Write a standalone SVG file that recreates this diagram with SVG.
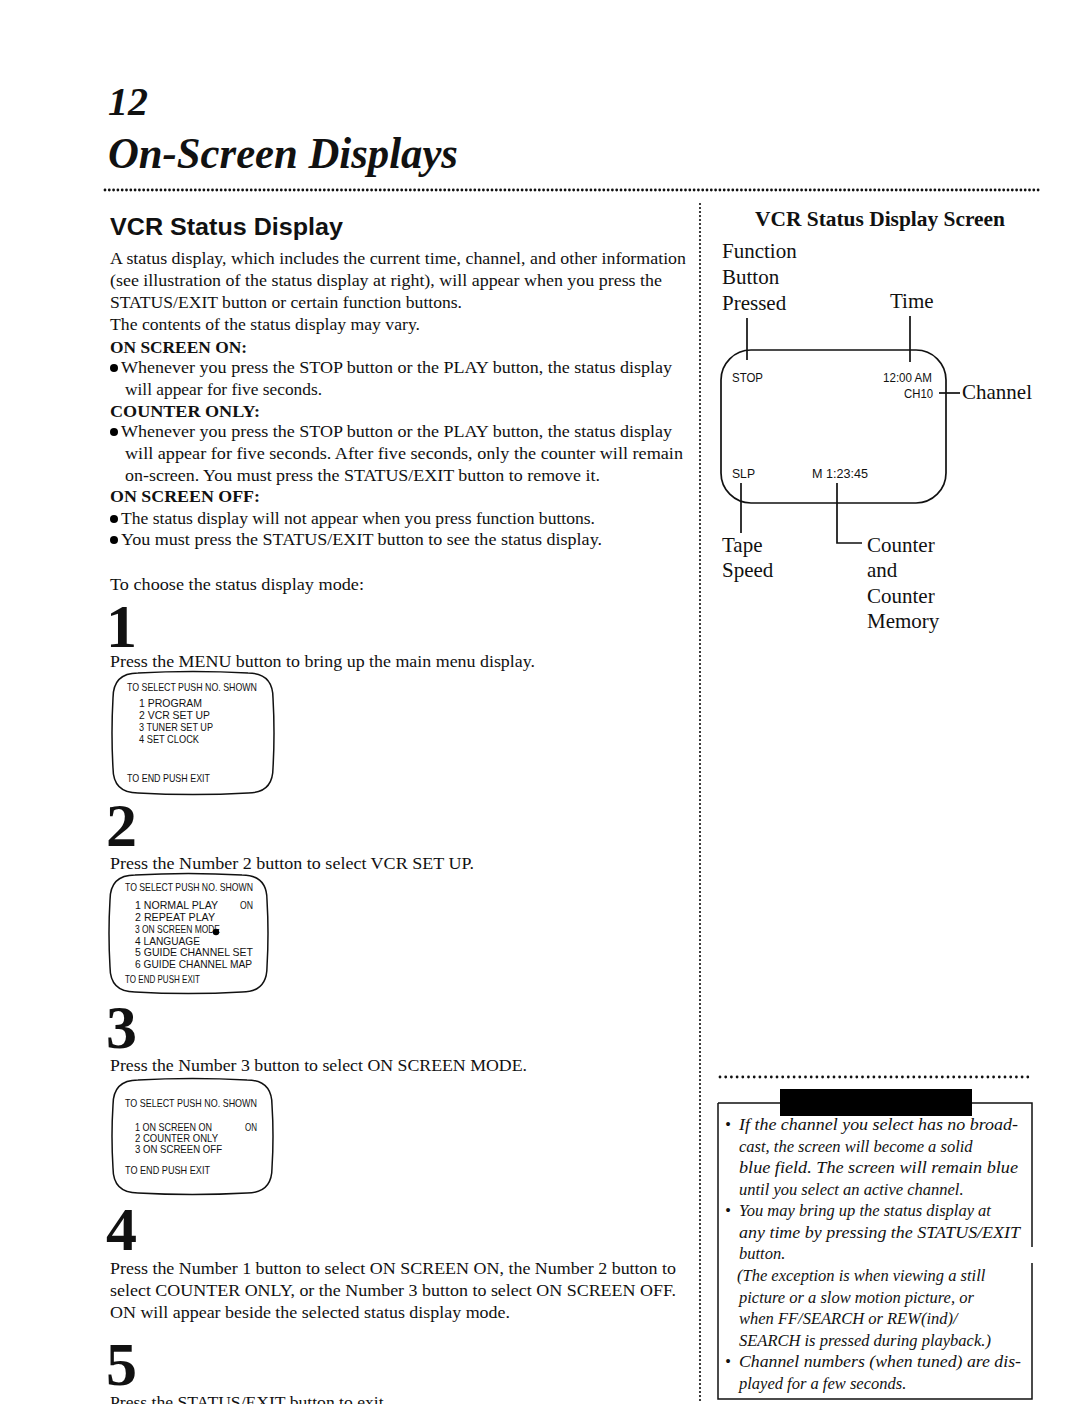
<svg xmlns="http://www.w3.org/2000/svg" width="1080" height="1404" viewBox="0 0 1080 1404">
<style>
text{fill:#111}
.b{font-family:"Liberation Serif","Times New Roman",serif;font-size:16.5px}
.bh{font-family:"Liberation Serif","Times New Roman",serif;font-size:16.5px;font-weight:bold}
.st{font-family:"Liberation Serif","Times New Roman",serif;font-size:62px;font-weight:bold}
.m{font-family:"Liberation Sans",Arial,sans-serif;font-size:11px}
.s{font-family:"Liberation Sans",Arial,sans-serif;font-size:12px}
.l{font-family:"Liberation Serif","Times New Roman",serif;font-size:21px}
.n{font-family:"Liberation Serif","Times New Roman",serif;font-size:16.5px;font-style:italic}
.ln{stroke:#111;stroke-width:1.7;fill:none}
.box{stroke:#111;stroke-width:1.5;fill:none}
.dot{stroke:#111;stroke-linecap:round;fill:none}
</style>

<g id="header">
<text x="108" y="115" style="font-family:'Liberation Serif',serif;font-size:40px;font-weight:bold;font-style:italic">12</text>
<text x="108" y="168" textLength="350" lengthAdjust="spacingAndGlyphs" style="font-family:'Liberation Serif',serif;font-size:44px;font-weight:bold;font-style:italic">On-Screen Displays</text>
<line class="dot" x1="105" y1="190" x2="1040" y2="190" stroke-width="2.8" stroke-dasharray="0 4.3"/>
<line class="dot" x1="700" y1="204" x2="700" y2="1404" stroke-width="2.2" stroke-dasharray="0 4"/>
</g>

<g id="intro">
<text x="110" y="235" textLength="233" lengthAdjust="spacingAndGlyphs" style="font-family:'Liberation Sans',Arial,sans-serif;font-size:23px;font-weight:bold">VCR Status Display</text>
<text class="b" x="110" y="264" textLength="576" lengthAdjust="spacingAndGlyphs">A status display, which includes the current time, channel, and other information</text>
<text class="b" x="110" y="286" textLength="552" lengthAdjust="spacingAndGlyphs">(see illustration of the status display at right), will appear when you press the</text>
<text class="b" x="110" y="308" textLength="352" lengthAdjust="spacingAndGlyphs">STATUS/EXIT button or certain function buttons.</text>
<text class="b" x="110" y="330" textLength="310" lengthAdjust="spacingAndGlyphs">The contents of the status display may vary.</text>
<text class="bh" x="110" y="353" textLength="137" lengthAdjust="spacingAndGlyphs">ON SCREEN ON:</text>
<circle cx="114" cy="368" r="4"/>
<text class="b" x="121" y="373" textLength="551" lengthAdjust="spacingAndGlyphs">Whenever you press the STOP button or the PLAY button, the status display</text>
<text class="b" x="125" y="395" textLength="197" lengthAdjust="spacingAndGlyphs">will appear for five seconds.</text>
<text class="bh" x="110" y="417" textLength="150" lengthAdjust="spacingAndGlyphs">COUNTER ONLY:</text>
<circle cx="114" cy="432" r="4"/>
<text class="b" x="121" y="437" textLength="551" lengthAdjust="spacingAndGlyphs">Whenever you press the STOP button or the PLAY button, the status display</text>
<text class="b" x="125" y="459" textLength="558" lengthAdjust="spacingAndGlyphs">will appear for five seconds.  After five seconds, only the counter will remain</text>
<text class="b" x="125" y="481" textLength="475" lengthAdjust="spacingAndGlyphs">on-screen.  You must press the STATUS/EXIT button to remove it.</text>
<text class="bh" x="110" y="502" textLength="150" lengthAdjust="spacingAndGlyphs">ON SCREEN OFF:</text>
<circle cx="114" cy="519" r="4"/>
<text class="b" x="121" y="524" textLength="474" lengthAdjust="spacingAndGlyphs">The status display will not appear when you press function buttons.</text>
<circle cx="114" cy="540" r="4"/>
<text class="b" x="121" y="545" textLength="481" lengthAdjust="spacingAndGlyphs">You must press the STATUS/EXIT button to see the status display.</text>
<text class="b" x="110" y="590" textLength="254" lengthAdjust="spacingAndGlyphs">To choose the status display mode:</text>
</g>

<g id="step1">
<text class="st" x="106" y="647">1</text>
<text class="b" x="110" y="667" textLength="425" lengthAdjust="spacingAndGlyphs">Press the MENU button to bring up the main menu display.</text>
</g>
<g id="menu1">
<path class="box" d="M138,673 Q193,670 248,673 Q273,673 273,698 Q275,733 273,768 Q273,793 248,793 Q193,796 138,793 Q113,793 113,768 Q111,733 113,698 Q113,673 138,673Z"/>
<text class="m" x="127" y="691" textLength="130" lengthAdjust="spacingAndGlyphs">TO SELECT PUSH NO. SHOWN</text>
<text class="m" x="139" y="707" textLength="63" lengthAdjust="spacingAndGlyphs">1  PROGRAM</text>
<text class="m" x="139" y="719" textLength="71" lengthAdjust="spacingAndGlyphs">2  VCR SET UP</text>
<text class="m" x="139" y="731" textLength="74" lengthAdjust="spacingAndGlyphs">3  TUNER SET UP</text>
<text class="m" x="139" y="743" textLength="60" lengthAdjust="spacingAndGlyphs">4  SET CLOCK</text>
<text class="m" x="127" y="782" textLength="83" lengthAdjust="spacingAndGlyphs">TO END PUSH EXIT</text>
</g>

<g id="step2">
<text class="st" x="106" y="846">2</text>
<text class="b" x="110" y="869" textLength="364" lengthAdjust="spacingAndGlyphs">Press the Number 2 button to select VCR SET UP.</text>
</g>
<g id="menu2">
<path class="box" d="M135,875 Q188,872 242,875 Q267,875 267,900 Q269,933 267,967 Q267,992 242,992 Q188,995 135,992 Q110,992 110,967 Q108,933 110,900 Q110,875 135,875Z"/>
<text class="m" x="125" y="891" textLength="128" lengthAdjust="spacingAndGlyphs">TO SELECT PUSH NO. SHOWN</text>
<text class="m" x="135" y="909" textLength="83" lengthAdjust="spacingAndGlyphs">1  NORMAL PLAY</text>
<text class="m" x="240" y="909" textLength="13" lengthAdjust="spacingAndGlyphs">ON</text>
<text class="m" x="135" y="921" textLength="80" lengthAdjust="spacingAndGlyphs">2  REPEAT PLAY</text>
<text class="m" x="135" y="933" textLength="85" lengthAdjust="spacingAndGlyphs">3  ON SCREEN MODE</text>
<circle cx="216" cy="932" r="3.2"/>
<text class="m" x="135" y="945" textLength="65" lengthAdjust="spacingAndGlyphs">4  LANGUAGE</text>
<text class="m" x="135" y="956" textLength="118" lengthAdjust="spacingAndGlyphs">5  GUIDE CHANNEL SET</text>
<text class="m" x="135" y="968" textLength="117" lengthAdjust="spacingAndGlyphs">6  GUIDE CHANNEL MAP</text>
<text class="m" x="125" y="983" textLength="75" lengthAdjust="spacingAndGlyphs">TO END PUSH EXIT</text>
</g>

<g id="step3">
<text class="st" x="106" y="1048">3</text>
<text class="b" x="110" y="1071" textLength="417" lengthAdjust="spacingAndGlyphs">Press the Number 3 button to select ON SCREEN MODE.</text>
</g>
<g id="menu3">
<path class="box" d="M138,1080 Q192,1077 247,1080 Q272,1080 272,1105 Q274,1136 272,1168 Q272,1193 247,1193 Q192,1196 138,1193 Q113,1193 113,1168 Q111,1136 113,1105 Q113,1080 138,1080Z"/>
<text class="m" x="125" y="1107" textLength="132" lengthAdjust="spacingAndGlyphs">TO SELECT PUSH NO. SHOWN</text>
<text class="m" x="135" y="1131" textLength="77" lengthAdjust="spacingAndGlyphs">1  ON SCREEN ON</text>
<text class="m" x="245" y="1131" textLength="12" lengthAdjust="spacingAndGlyphs">ON</text>
<text class="m" x="135" y="1142" textLength="83" lengthAdjust="spacingAndGlyphs">2  COUNTER ONLY</text>
<text class="m" x="135" y="1153" textLength="87" lengthAdjust="spacingAndGlyphs">3  ON SCREEN OFF</text>
<text class="m" x="125" y="1174" textLength="85" lengthAdjust="spacingAndGlyphs">TO END PUSH EXIT</text>
</g>

<g id="step4">
<text class="st" x="106" y="1250">4</text>
<text class="b" x="110" y="1274" textLength="566" lengthAdjust="spacingAndGlyphs">Press the Number 1 button to select ON SCREEN ON, the Number 2 button to</text>
<text class="b" x="110" y="1296" textLength="566" lengthAdjust="spacingAndGlyphs">select COUNTER ONLY, or the Number 3 button to select ON SCREEN OFF.</text>
<text class="b" x="110" y="1318" textLength="400" lengthAdjust="spacingAndGlyphs">ON will appear beside the selected status display mode.</text>
</g>

<g id="step5">
<text class="st" x="106" y="1385">5</text>
<text class="b" x="110" y="1408" textLength="278" lengthAdjust="spacingAndGlyphs">Press the STATUS/EXIT button to exit.</text>
</g>

<g id="status-screen">
<text x="755" y="226" textLength="250" lengthAdjust="spacingAndGlyphs" style="font-family:'Liberation Serif',serif;font-size:20px;font-weight:bold">VCR Status Display Screen</text>
<rect class="ln" x="721" y="350" width="225" height="153" rx="30" ry="30"/>
<text class="s" x="732" y="382" textLength="31" lengthAdjust="spacingAndGlyphs">STOP</text>
<text class="s" x="883" y="382" textLength="49" lengthAdjust="spacingAndGlyphs">12:00 AM</text>
<text class="s" x="904" y="398" textLength="29" lengthAdjust="spacingAndGlyphs">CH10</text>
<text class="s" x="732" y="478" textLength="23" lengthAdjust="spacingAndGlyphs">SLP</text>
<text class="s" x="812" y="478" textLength="56" lengthAdjust="spacingAndGlyphs">M  1:23:45</text>
</g>

<g id="labels">
<text class="l" x="722" y="258">Function</text>
<text class="l" x="722" y="284">Button</text>
<text class="l" x="722" y="310">Pressed</text>
<text class="l" x="890" y="308">Time</text>
<text class="l" x="962" y="399">Channel</text>
<text class="l" x="722" y="552">Tape</text>
<text class="l" x="722" y="577">Speed</text>
<text class="l" x="867" y="552">Counter</text>
<text class="l" x="867" y="577">and</text>
<text class="l" x="867" y="603">Counter</text>
<text class="l" x="867" y="628">Memory</text>
</g>

<g id="connectors">
<line class="ln" x1="747" y1="318" x2="747" y2="360"/>
<line class="ln" x1="910" y1="316" x2="910" y2="362"/>
<line class="ln" x1="939" y1="393" x2="960" y2="393"/>
<line class="ln" x1="741" y1="483" x2="741" y2="533"/>
<polyline class="ln" points="837,483 837,543 862,543"/>
</g>

<g id="notes">
<line class="dot" x1="720" y1="1077" x2="1032" y2="1077" stroke-width="2.8" stroke-dasharray="0 5.7"/>
<path class="box" d="M718,1103 H1032 V1247 M1032,1263 V1399 H718 V1103"/>
<rect x="780" y="1089" width="192" height="27" fill="#000"/>
<text class="n" x="725" y="1130">•</text>
<text class="n" x="739" y="1130" textLength="279" lengthAdjust="spacingAndGlyphs">If the channel you select has no broad-</text>
<text class="n" x="739" y="1152">cast, the screen will become a solid</text>
<text class="n" x="739" y="1173" textLength="279" lengthAdjust="spacingAndGlyphs">blue field.  The screen will remain blue</text>
<text class="n" x="739" y="1195">until you select an active channel.</text>
<text class="n" x="725" y="1216">•</text>
<text class="n" x="739" y="1216">You may bring up the status display at</text>
<text class="n" x="739" y="1238" textLength="281" lengthAdjust="spacingAndGlyphs">any time by pressing the STATUS/EXIT</text>
<text class="n" x="739" y="1259">button.</text>
<text class="n" x="737" y="1281">(The exception is when viewing a still</text>
<text class="n" x="739" y="1303">picture or a slow motion picture, or</text>
<text class="n" x="739" y="1324">when FF/SEARCH or REW(ind)/</text>
<text class="n" x="739" y="1346">SEARCH is pressed during playback.)</text>
<text class="n" x="725" y="1367">•</text>
<text class="n" x="739" y="1367" textLength="282" lengthAdjust="spacingAndGlyphs">Channel numbers (when tuned) are dis-</text>
<text class="n" x="739" y="1389">played for a few seconds.</text>
</g>
</svg>
